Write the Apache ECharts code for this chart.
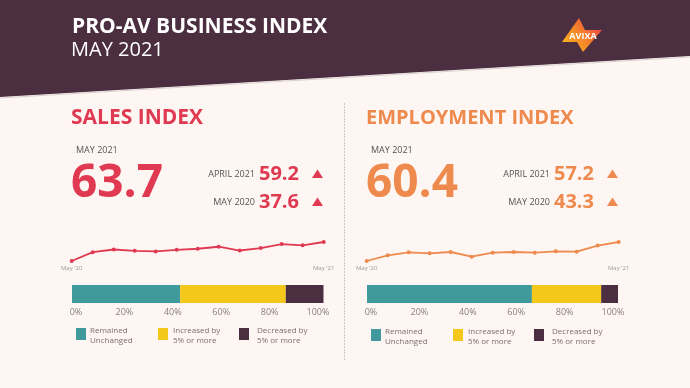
<!DOCTYPE html>
<html><head><meta charset="utf-8">
<script src="https://cdn.jsdelivr.net/npm/echarts@6/dist/echarts.min.js"></script>
<style>html,body{margin:0;padding:0;background:#fdf6f2}#c{width:690px;height:388px}</style>
</head><body><div id="c"></div>
<script>
const months = ["May '20","Jun '20","Jul '20","Aug '20","Sep '20","Oct '20","Nov '20","Dec '20","Jan '21","Feb '21","Mar '21","Apr '21","May '21"];
const salesTrend = [37.6, 49.7, 53.4, 51.6, 50.7, 53.0, 54.4, 57.2, 52.0, 55.3, 60.9, 59.2, 63.7];
const employmentTrend = [43.3, 48.4, 51.1, 50.2, 51.4, 47.2, 50.8, 51.4, 50.8, 52.0, 51.7, 57.2, 60.4];
const changeCategories = ["Remained Unchanged", "Increased by 5% or more", "Decreased by 5% or more"];
const legendLines = [["Remained","Unchanged"],["Increased by","5% or more"],["Decreased by","5% or more"]];
const salesShares = [43, 42, 15];
const employmentShares = [65.7, 27.6, 6.7];
const pctTicks = [0, 20, 40, 60, 80, 100];
const salesHeadline = {current: "63.7", prevMonth: "59.2", prevYear: "37.6"};
const employmentHeadline = {current: "60.4", prevMonth: "57.2", prevYear: "43.3"};

const FONT = "'Open Sans', sans-serif";
const RED = '#e03a52', ORANGE = '#ef8a4e';
const SHARE_COLORS = ['#409a9c', '#f3c81b', '#4b2e3f'];
const chart = echarts.init(document.getElementById('c'));

function panelGraphics(dx, dy, title, titleSize, color, h) {
  const g = [];
  g.push({type:'text', x: 71+dx, y: 118, style:{text:title, font:`bold ${titleSize}px ${FONT}`, fill:color, verticalAlign:'middle'}});
  g.push({type:'text', x: 76+dx, y: 150, style:{text:'MAY 2021', font:`9px ${FONT}`, fill:'#555', verticalAlign:'middle'}});
  g.push({type:'text', x: 71+dx, y: 184, style:{text:h.current, font:`bold 46px ${FONT}`, fill:color, verticalAlign:'middle'}});
  g.push({type:'text', x: 255+dx, y: 174, style:{text:'APRIL 2021', font:`9px ${FONT}`, fill:'#555', align:'right', verticalAlign:'middle'}});
  g.push({type:'text', x: 259+dx, y: 174, style:{text:h.prevMonth, font:`bold 20px ${FONT}`, fill:color, verticalAlign:'middle'}});
  g.push({type:'text', x: 255+dx, y: 202, style:{text:'MAY 2020', font:`9px ${FONT}`, fill:'#555', align:'right', verticalAlign:'middle'}});
  g.push({type:'text', x: 259+dx, y: 202, style:{text:h.prevYear, font:`bold 20px ${FONT}`, fill:color, verticalAlign:'middle'}});
  [174, 202].forEach(cy => g.push({type:'polygon', shape:{points:[[312+dx,cy+4],[323+dx,cy+4],[317.5+dx,cy-4.5]]}, style:{fill:color}}));
  const lx = [76, 158, 239], tx = [90, 173, 257];
  changeCategories.forEach((c, i) => {
    g.push({type:'rect', shape:{x:lx[i]+dx, y:328+dy, width:10, height:12}, style:{fill:SHARE_COLORS[i]}});
    g.push({type:'text', x:tx[i]+dx, y:331+dy, style:{text:legendLines[i][0], font:`8px ${FONT}`, fill:'#7a7070', verticalAlign:'middle'}});
    g.push({type:'text', x:tx[i]+dx, y:341+dy, style:{text:legendLines[i][1], font:`8px ${FONT}`, fill:'#7a7070', verticalAlign:'middle'}});
  });
  return g;
}

const logoFill = new echarts.graphic.LinearGradient(0,1,1,0,[{offset:0,color:'#f9c21a'},{offset:0.5,color:'#f4822a'},{offset:1,color:'#e8334f'}]);

const graphics = [
  {type:'polygon', shape:{points:[[0,0],[690,0],[690,56],[0,97]]}, style:{fill:'#4b2e3f'}, z:-1},
  {type:'polyline', shape:{points:[[0,98],[690,57]]}, style:{stroke:'#d9d0d0', lineWidth:1.2}, z:-1},
  {type:'text', x:72, y:27, style:{text:'PRO-AV BUSINESS INDEX', font:`bold 21px ${FONT}`, fill:'#ffffff', verticalAlign:'middle'}},
  {type:'text', x:71, y:50, style:{text:'MAY 2021', font:`20px ${FONT}`, fill:'#ffffff', verticalAlign:'middle'}},
  {type:'polygon', shape:{points:[[579,18],[585,30],[602,30],[583,52],[577,42],[562,42]]}, style:{fill:logoFill}},
  {type:'text', x:583, y:36, style:{text:'AVIXA', font:`bold 9px ${FONT}`, fill:'#ffffff', align:'center', verticalAlign:'middle'}},
  {type:'line', shape:{x1:344.5, y1:103, x2:344.5, y2:361}, style:{stroke:'#cfc6c6', lineWidth:1, lineDash:[2,1]}},
  ...panelGraphics(0, 0, 'SALES INDEX', 21, RED, salesHeadline),
  ...panelGraphics(295, 1, 'EMPLOYMENT INDEX', 20, ORANGE, employmentHeadline)
];

function sparkAxis(gi) {
  return {type:'category', gridIndex:gi, data:months, boundaryGap:false,
    axisLine:{show:false}, axisTick:{show:false},
    axisLabel:{interval:(i)=> i===0 || i===months.length-1, fontSize:6, color:'#999', margin:4, fontFamily:FONT}};
}
function pctAxis(gi, show) {
  return {type:'value', gridIndex:gi, min:0, max:100, interval:20,
    axisLine:{show:false}, axisTick:{show:false}, splitLine:{show:false},
    axisLabel:{show:show, formatter:'{value}%', fontSize:9, color:'#8a8080', margin:5, fontFamily:FONT}};
}

const option = {
  backgroundColor:'#fdf6f2',
  animation:false,
  grid:[
    {left:71.7, width:252, top:242, height:19},
    {left:366.7, width:252, top:242, height:19},
    {left:72, width:251.5, top:285, height:18},
    {left:367, width:251, top:285, height:18},
    {left:76, width:242, top:285, height:18},
    {left:371, width:242, top:285, height:18}
  ],
  xAxis:[sparkAxis(0), sparkAxis(1), pctAxis(2,false), pctAxis(3,false), pctAxis(4,true), pctAxis(5,true)],
  yAxis:[
    {type:'value', gridIndex:0, min:'dataMin', max:'dataMax', show:false},
    {type:'value', gridIndex:1, min:'dataMin', max:'dataMax', show:false},
    {type:'category', gridIndex:2, data:['Sales'], show:false},
    {type:'category', gridIndex:3, data:['Employment'], show:false},
    {type:'value', gridIndex:4, show:false},
    {type:'value', gridIndex:5, show:false}
  ],
  series:[
    {type:'line', xAxisIndex:0, yAxisIndex:0, data:salesTrend, symbol:'circle', symbolSize:4, lineStyle:{color:RED, width:1.8}, itemStyle:{color:RED}},
    {type:'line', xAxisIndex:1, yAxisIndex:1, data:employmentTrend, symbol:'circle', symbolSize:4, lineStyle:{color:ORANGE, width:1.8}, itemStyle:{color:ORANGE}},
    ...changeCategories.map((c,i)=>({type:'bar', name:c, xAxisIndex:2, yAxisIndex:2, stack:'s', barWidth:'100%', data:[salesShares[i]], itemStyle:{color:SHARE_COLORS[i]}})),
    ...changeCategories.map((c,i)=>({type:'bar', name:c, xAxisIndex:3, yAxisIndex:3, stack:'e', barWidth:'100%', data:[employmentShares[i]], itemStyle:{color:SHARE_COLORS[i]}}))
  ],
  graphic: graphics
};
chart.setOption(option);
</script></body></html>
